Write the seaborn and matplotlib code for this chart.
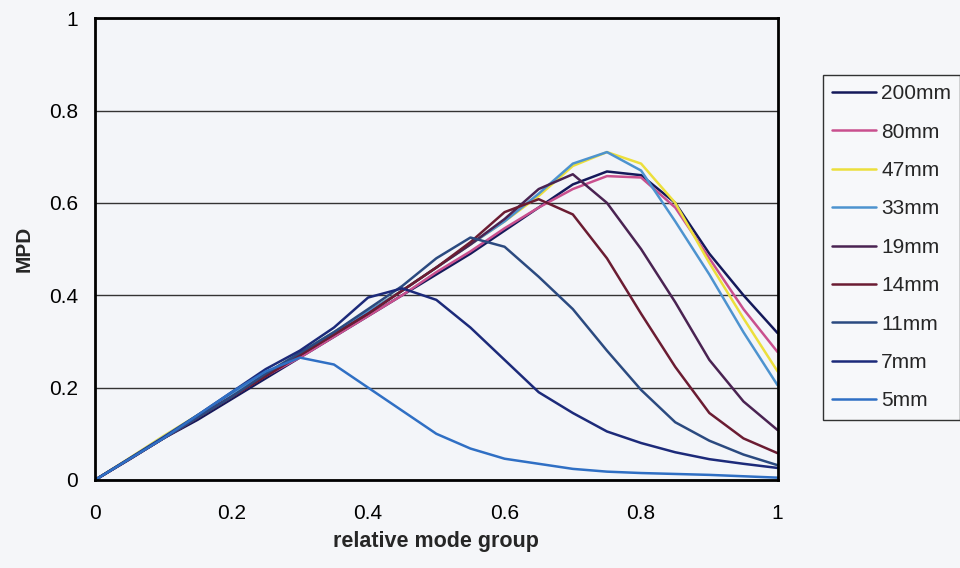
import matplotlib
matplotlib.use("Agg")
import matplotlib.pyplot as plt
import seaborn as sns
import pandas as pd
import numpy as np

sns.set_style("white")
plt.rcParams['font.family'] = ['Liberation Sans', 'DejaVu Sans']

# relative mode group sampled every 0.05
x = [0.00, 0.05, 0.10, 0.15, 0.20, 0.25, 0.30, 0.35, 0.40, 0.45, 0.50,
     0.55, 0.60, 0.65, 0.70, 0.75, 0.80, 0.85, 0.90, 0.95, 1.00]

labels = ['200mm', '80mm', '47mm', '33mm', '19mm', '14mm', '11mm', '7mm', '5mm']

mpd_200 = [0.00, 0.045, 0.09, 0.13, 0.175, 0.22, 0.265, 0.31, 0.355, 0.40, 0.445,
           0.49, 0.54, 0.59, 0.64, 0.668, 0.66, 0.60, 0.49, 0.40, 0.318]
mpd_80 = [0.00, 0.045, 0.09, 0.135, 0.18, 0.225, 0.265, 0.31, 0.355, 0.40, 0.45,
          0.495, 0.545, 0.59, 0.63, 0.658, 0.655, 0.59, 0.48, 0.37, 0.277]
mpd_47 = [0.00, 0.047, 0.095, 0.14, 0.185, 0.23, 0.275, 0.32, 0.365, 0.41, 0.46,
          0.51, 0.56, 0.615, 0.68, 0.71, 0.685, 0.60, 0.47, 0.35, 0.235]
mpd_33 = [0.00, 0.046, 0.093, 0.14, 0.185, 0.23, 0.275, 0.32, 0.365, 0.41, 0.46,
          0.51, 0.56, 0.62, 0.685, 0.71, 0.67, 0.56, 0.445, 0.32, 0.205]
mpd_19 = [0.00, 0.044, 0.09, 0.135, 0.18, 0.225, 0.27, 0.315, 0.36, 0.41, 0.46,
          0.51, 0.565, 0.63, 0.662, 0.60, 0.50, 0.385, 0.26, 0.17, 0.108]
mpd_14 = [0.00, 0.045, 0.09, 0.135, 0.18, 0.225, 0.27, 0.315, 0.36, 0.41, 0.46,
          0.515, 0.58, 0.608, 0.575, 0.48, 0.36, 0.245, 0.145, 0.09, 0.058]
mpd_11 = [0.00, 0.045, 0.09, 0.135, 0.18, 0.23, 0.275, 0.32, 0.37, 0.42, 0.48,
          0.525, 0.505, 0.44, 0.37, 0.28, 0.195, 0.125, 0.085, 0.055, 0.032]
mpd_7 = [0.00, 0.046, 0.092, 0.14, 0.19, 0.24, 0.28, 0.33, 0.395, 0.415, 0.39,
         0.33, 0.26, 0.19, 0.145, 0.105, 0.08, 0.06, 0.045, 0.035, 0.026]
mpd_5 = [0.00, 0.045, 0.09, 0.14, 0.19, 0.235, 0.265, 0.25, 0.20, 0.15, 0.10,
         0.068, 0.046, 0.035, 0.024, 0.018, 0.015, 0.013, 0.011, 0.008, 0.005]

series = [mpd_200, mpd_80, mpd_47, mpd_33, mpd_19, mpd_14, mpd_11, mpd_7, mpd_5]
colors = ['#14195a', '#c9508e', '#ecdf3c', '#4d93cf', '#4a2352',
          '#6b1c32', '#2b4a80', '#1c2a7a', '#2f6fc4']

df = pd.concat([pd.DataFrame({'x': x, 'MPD': s, 'size': lab})
                for s, lab in zip(series, labels)], ignore_index=True)

fig = plt.figure(figsize=(9.6, 5.68), dpi=100, facecolor='#f5f6f9')
ax = fig.add_axes([0.099, 0.155, 0.711, 0.813])
ax.set_facecolor('#f3f5f9')

sns.lineplot(data=df, x='x', y='MPD', hue='size', hue_order=labels,
             palette=dict(zip(labels, colors)), linewidth=1.8, ax=ax, legend=False)

ticks = [0, 0.2, 0.4, 0.6, 0.8, 1]
tick_text = ['0', '0.2', '0.4', '0.6', '0.8', '1']
ax.set_xlim(0, 1)
ax.set_ylim(0, 1)
ax.set_xticks(ticks)
ax.set_xticklabels(tick_text, fontsize=15)
ax.set_yticks(ticks)
ax.set_yticklabels(tick_text, fontsize=15)
ax.yaxis.grid(True, color='#333333', linewidth=1.0)
ax.set_axisbelow(True)
for sp in ax.spines.values():
    sp.set_color('black')
    sp.set_linewidth(2)
ax.tick_params(axis='y', direction='out', length=7, width=1, colors='black', pad=5)
ax.tick_params(axis='x', length=0, pad=17, colors='black')

ax.set_xlabel('relative mode group', fontsize=15.5, fontweight='bold', labelpad=6)
ax.set_ylabel('MPD', fontsize=15, fontweight='bold', labelpad=11)

handles = [plt.Line2D([], [], color=c, linewidth=1.8) for c in colors]
leg = fig.legend(handles, labels, loc='upper left', bbox_to_anchor=(0.857, 0.868),
                 fontsize=15, frameon=True, fancybox=False, handlelength=2.1,
                 labelspacing=0.93, borderpad=0.45, handletextpad=0.25,
                 borderaxespad=0)
leg.get_frame().set_edgecolor('black')
leg.get_frame().set_linewidth(1)
leg.get_frame().set_facecolor('#f8f9fb')

fig.savefig('out.png', dpi=100, facecolor=fig.get_facecolor())
